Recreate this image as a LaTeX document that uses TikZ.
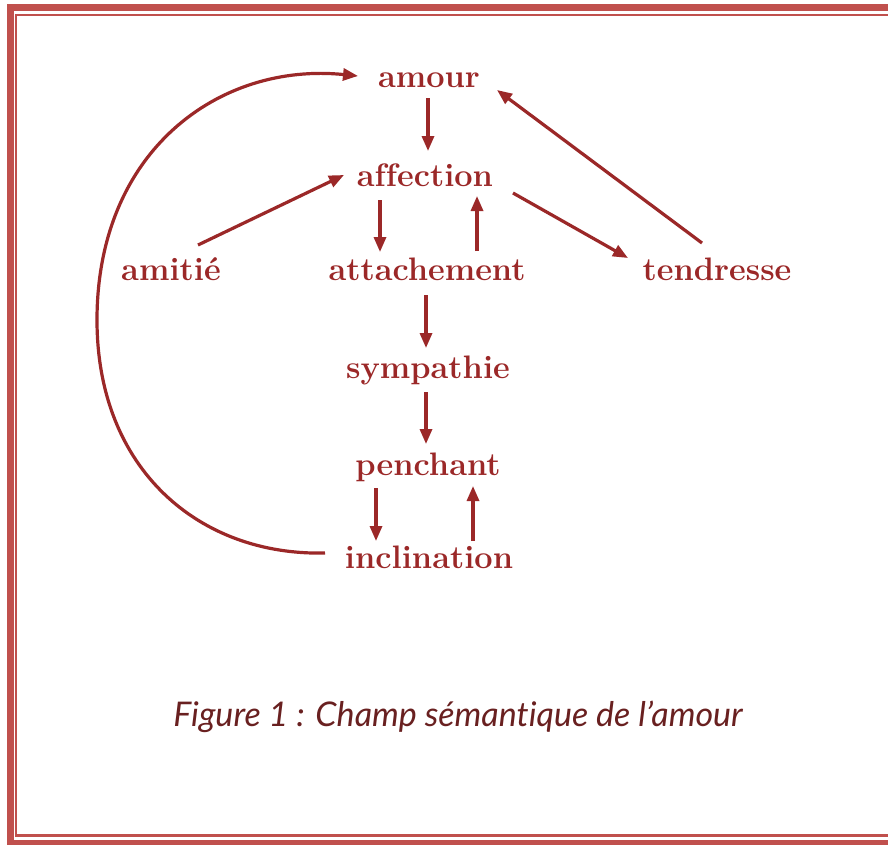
\documentclass[tikz,border=0pt]{standalone}
\usepackage{fontspec}
\newfontfamily\capfont[Ligatures=NoCommon]{Lato}
\usetikzlibrary{arrows.meta}
\definecolor{ink}{RGB}{155,40,40}
\definecolor{frame}{RGB}{192,80,77}
\definecolor{capcol}{RGB}{105,32,32}
\tikzset{
  word/.style={anchor=base, inner sep=0pt, text=ink, font=\fontsize{32.5}{36}\selectfont\bfseries},
  link/.style={draw=ink, line width=3.2pt, -{Triangle[length=15pt,width=12pt]}},
}
\begin{document}
\begin{tikzpicture}[x=1pt,y=-1pt]
\useasboundingbox (0,0) rectangle (888,844);
\fill[white] (0,0) rectangle (888,844);
\begin{scope}
\clip (0,0) rectangle (888,844);
\draw[frame, line width=7pt] (10,7.5) rectangle (900,843.5);
\draw[frame, line width=2.5pt] (16,15) rectangle (900,835.5);
\end{scope}
\node[word] (amour) at (429,87) {amour};
\node[word] (affection) at (425,186) {af\kern0pt fection};
\node[word] (amitie) at (171,280) {amitié};
\node[word] (attachement) at (427,280) {attachement};
\node[word] (tendresse) at (717,280) {tendresse};
\node[word] (sympathie) at (428,378) {sympathie};
\node[word] (penchant) at (428,475) {penchant};
\node[word] (inclination) at (429,568) {inclination};
\node[anchor=base, inner sep=0pt, text=capcol, font=\capfont\itshape\fontsize{34}{38}\selectfont] (caption) at (458,726) {Figure 1 : Champ sémantique de l’amour};
% connector anchor points
\coordinate (a1) at (428,98);
\coordinate (f1) at (428,151);
\coordinate (m1) at (198,245);
\coordinate (f2) at (344,175);
\coordinate (f3) at (380,200);
\coordinate (t1) at (380,252);
\coordinate (t2) at (477,251);
\coordinate (f4) at (477,196);
\coordinate (f5) at (513,193);
\coordinate (d1) at (628,258);
\coordinate (d2) at (702,243);
\coordinate (a2) at (497,90);
\coordinate (t3) at (426,295);
\coordinate (s1) at (426,348);
\coordinate (s2) at (426,392);
\coordinate (p1) at (426,444);
\coordinate (p2) at (376,488);
\coordinate (i1) at (376,541);
\coordinate (i2) at (473,541);
\coordinate (p3) at (473,486);
\coordinate (i3) at (325,553);
\coordinate (a3) at (358,76);
\draw[link] (a1) -- (f1);
\draw[link] (m1) -- (f2);
\draw[link] (f3) -- (t1);
\draw[link] (t2) -- (f4);
\draw[link] (f5) -- (d1);
\draw[link] (d2) -- (a2);
\draw[link] (t3) -- (s1);
\draw[link] (s2) -- (p1);
\draw[link] (p2) -- (i1);
\draw[link] (i2) -- (p3);
\draw[link] (i3) .. controls (200,556) and (97,470) .. (97,320) .. controls (97,150) and (220,62) .. (a3);
\end{tikzpicture}
\end{document}
